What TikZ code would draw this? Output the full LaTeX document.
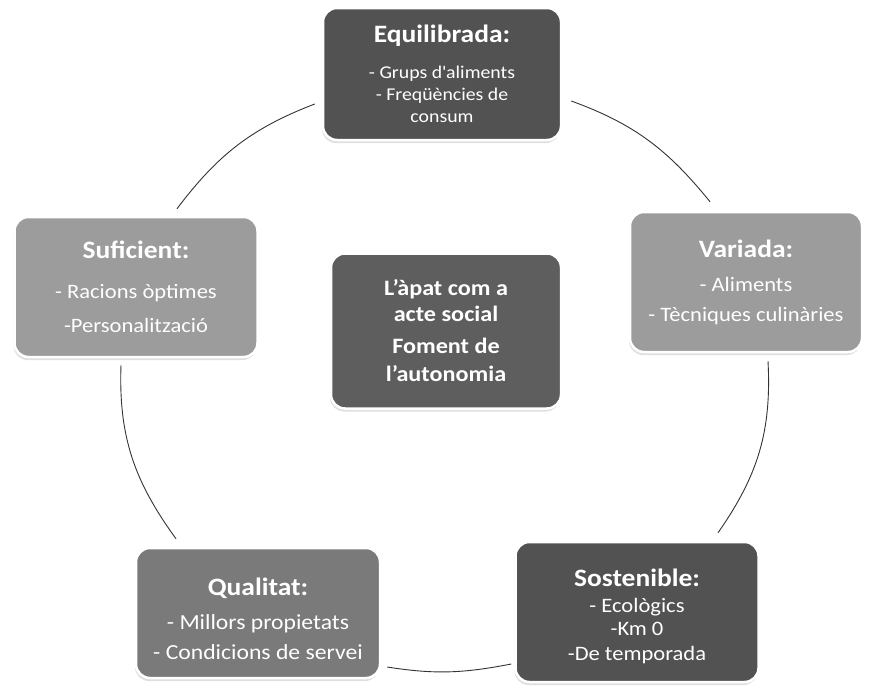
\documentclass[tikz,border=0pt]{standalone}
\usepackage{fontspec}
\setmainfont{Carlito}[FakeStretch=1.1]
\usetikzlibrary{shadows}

\definecolor{boxdark}{HTML}{525252}
\definecolor{boxmid}{HTML}{7A7A7A}
\definecolor{boxlight}{HTML}{9C9C9C}
\definecolor{boxcenter}{HTML}{5E5E5E}
\newcommand{\boxtitle}[1]{{\fontsize{25}{26}\selectfont\bfseries #1}}

\begin{document}
\begin{tikzpicture}[x=1pt,y=-1pt,
  box/.style={draw=white, line width=2.5pt, rounded corners=14pt, inner sep=0pt,
    text=white, align=center, font=\fontsize{20.5}{22}\selectfont,
    drop shadow={shadow xshift=-1pt, shadow yshift=-3pt, fill=black!25}},
  link/.style={draw, line width=0.9pt, black!80}]
\useasboundingbox (0,0) rectangle (870,696);

\node[box, fill=boxdark, minimum width=238pt, minimum height=132pt,
  font=\fontsize{18}{22}\selectfont] (1) at (442,74)
  {\boxtitle{Equilibrada:}\\[14pt] - Grups d\textquotesingle aliments\\ - Freqüències de\\ consum};
\node[box, fill=boxlight, minimum width=232pt, minimum height=140pt] (2) at (746,282)
  {\boxtitle{Variada:}\\[12pt] - Aliments\\[8pt] - Tècniques culinàries};
\node[box, fill=boxdark, minimum width=243pt, minimum height=140pt,
  text height=101pt] (3) at (637,612)
  {\boxtitle{Sostenible:}\\[4pt] - Ecològics\\[1pt] -Km 0\\[3pt] -De temporada};
\node[box, fill=boxmid, minimum width=244pt, minimum height=130pt,
  font=\fontsize{21.5}{22}\selectfont, text height=93pt] (4) at (258,613)
  {\boxtitle{Qualitat:}\\[12pt] - Millors propietats\\[8pt] - Condicions de servei};
\node[box, fill=boxlight, minimum width=243pt, minimum height=140pt] (5) at (136,287)
  {\boxtitle{Suficient:}\\[18pt] - Racions òptimes\\[12pt] -Personalització};
\node[box, fill=boxcenter, minimum width=230pt, minimum height=155pt,
  font=\fontsize{22}{26}\selectfont\bfseries] (6) at (446,331)
  {L’àpat com a\\ acte social\\[6pt] Foment de\\[2pt] l’autonomia};

\path[link] ([shift={(-7,30)}]1.west) to[out=201,in=53] ([shift={(41,-7)}]5.north);
\path[link] ([shift={(9,27)}]1.east) to[out=-20,in=129] ([shift={(-36,-9)}]2.north);
\path[link] ([shift={(-15,7)}]5.south) to[out=268,in=126] ([shift={(-82,-8)}]4.north);
\path[link] ([shift={(6,54)}]4.east) to[out=-9,in=191] ([shift={(-3,52)}]3.west);
\path[link] ([shift={(22,8)}]2.south) to[out=-87,in=55] ([shift={(81,-8)}]3.north);
\end{tikzpicture}
\end{document}
